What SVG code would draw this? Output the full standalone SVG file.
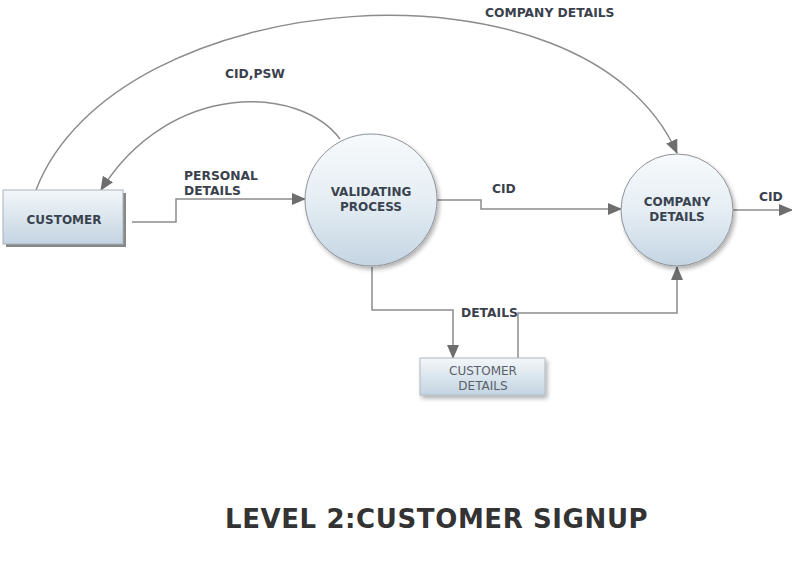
<svg xmlns="http://www.w3.org/2000/svg" width="792" height="566" viewBox="0 0 792 566">
<style>
  .lbl { font-family: "DejaVu Sans", Verdana, sans-serif; font-weight: bold; font-size: 12.3px; fill: #3a414c; }
  .nd { font-family: "DejaVu Sans", Verdana, sans-serif; font-weight: bold; font-size: 12px; fill: #3a4350; text-anchor: middle; }
  .nd2 { font-family: "DejaVu Sans", Verdana, sans-serif; font-size: 12px; fill: #5a6068; text-anchor: middle; }
  .conn { fill: none; stroke: #8c8c8c; stroke-width: 1.5; }
  .title { font-family: "DejaVu Sans", Verdana, sans-serif; font-weight: bold; font-size: 26px; fill: #333333; letter-spacing: 0.6px; }
</style>
<defs>
  <linearGradient id="gC" x1="0" y1="0" x2="0" y2="1">
    <stop offset="0" stop-color="#f7fafc"/>
    <stop offset="0.5" stop-color="#e6eef4"/>
    <stop offset="1" stop-color="#c4d5e3"/>
  </linearGradient>
  <linearGradient id="gB" x1="0" y1="0" x2="0" y2="1">
    <stop offset="0" stop-color="#f3f7fa"/>
    <stop offset="1" stop-color="#c3d4e1"/>
  </linearGradient>
  <filter id="sh" x="-20%" y="-20%" width="150%" height="150%">
    <feDropShadow dx="2" dy="3" stdDeviation="2" flood-color="#000" flood-opacity="0.3"/>
  </filter>
  <marker id="ar" markerWidth="14" markerHeight="12" refX="13" refY="6" orient="auto" markerUnits="userSpaceOnUse">
    <path d="M0,0 L14,6 L0,12 z" fill="#6e6e6e"/>
  </marker>
</defs>
<rect width="792" height="566" fill="#ffffff"/>

<g id="connectors">
  <path class="conn" d="M36,190 C 115,-16 585,-54 677,153" marker-end="url(#ar)"/>
  <path class="conn" d="M340,139 C 300,85 170,80 101,190" marker-end="url(#ar)"/>
  <path class="conn" d="M132,222 H176 V199 H305" marker-end="url(#ar)"/>
  <path class="conn" d="M437,200 H481 V209 H621" marker-end="url(#ar)"/>
  <path class="conn" d="M733,210 H792" marker-end="url(#ar)"/>
  <path class="conn" d="M372,267 V310 H453 V358" marker-end="url(#ar)"/>
  <path class="conn" d="M518,358 V313 H677 V267" marker-end="url(#ar)"/>
  <text class="lbl" x="485" y="17">COMPANY DETAILS</text>
  <text class="lbl" x="225" y="78">CID,PSW</text>
  <text class="lbl" x="184" y="180">PERSONAL</text>
  <text class="lbl" x="184" y="195">DETAILS</text>
  <text class="lbl" x="492" y="193">CID</text>
  <text class="lbl" x="759" y="201">CID</text>
  <text class="lbl" x="461" y="317">DETAILS</text>
</g>

<g id="customer">
  <rect x="6" y="193" width="120" height="54" fill="#555" opacity="0.7"/>
  <rect x="3" y="190" width="120" height="54" fill="url(#gB)" stroke="#a8b2bb" stroke-width="1"/>
  <text class="nd" x="64" y="224">CUSTOMER</text>
</g>

<g id="validating-process">
  <circle cx="371" cy="200" r="66" fill="url(#gC)" stroke="#8f9398" stroke-width="1" filter="url(#sh)"/>
  <text class="nd" x="371" y="196">VALIDATING</text>
  <text class="nd" x="371" y="211">PROCESS</text>
</g>

<g id="company-details">
  <circle cx="677" cy="210" r="56" fill="url(#gC)" stroke="#8f9398" stroke-width="1" filter="url(#sh)"/>
  <text class="nd" x="677" y="206">COMPANY</text>
  <text class="nd" x="677" y="221">DETAILS</text>
</g>

<g id="customer-details">
  <rect x="420" y="358" width="125" height="37" fill="url(#gB)" stroke="#b0b8c0" stroke-width="1" filter="url(#sh)"/>
  <text class="nd2" x="483" y="375">CUSTOMER</text>
  <text class="nd2" x="483" y="390">DETAILS</text>
</g>

<text class="title" x="225" y="528">LEVEL 2:CUSTOMER SIGNUP</text>
</svg>
